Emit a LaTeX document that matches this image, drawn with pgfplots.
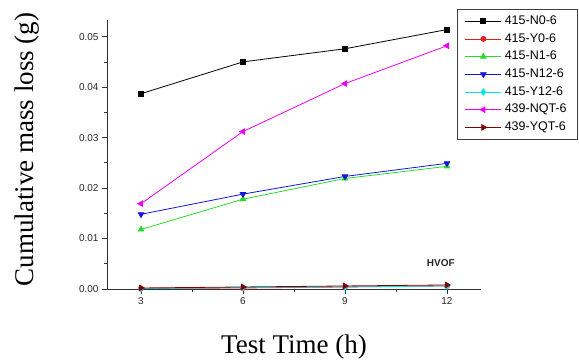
\documentclass[border=0pt]{standalone}
\usepackage{fontspec}
\setmainfont{Liberation Serif}
\setsansfont{Liberation Sans}
\usepackage{pgfplots}
\pgfplotsset{compat=1.18}

\definecolor{cN0}{RGB}{0,0,0}
\definecolor{cY0}{RGB}{230,30,30}
\definecolor{cN1}{RGB}{40,220,40}
\definecolor{cN12}{RGB}{20,20,220}
\definecolor{cY12}{RGB}{0,230,240}
\definecolor{cNQT}{RGB}{240,0,240}
\definecolor{cYQT}{RGB}{128,0,0}

\begin{document}
\begin{tikzpicture}
\begin{axis}[
  at={(0pt,0pt)}, anchor=south west,
  scale only axis, width=374pt, height=269pt,
  xmin=2, xmax=13, ymin=0, ymax=0.0533,
  axis x line*=bottom, axis y line*=left,
  axis line style={black!80, line width=0.7pt},
  xtick={3,6,9,12}, minor xtick={4.5,7.5,10.5},
  ytick={0,0.01,0.02,0.03,0.04,0.05},
  minor ytick={0.005,0.015,0.025,0.035,0.045},
  tick align=outside,
  major tick length=5pt, minor tick length=3pt,
  tick style={black!80, line width=0.7pt},
  scaled y ticks=false,
  yticklabel style={/pgf/number format/fixed, /pgf/number format/fixed zerofill, /pgf/number format/precision=2},
  /pgf/number format/assume math mode=true,
  ticklabel style={font=\sffamily\fontsize{10}{12}\selectfont, black!85},
  xlabel={Test Time (h)}, ylabel={Cumulative mass loss (g)},
  label style={font=\rmfamily\fontsize{27}{32}\selectfont},
  xlabel style={at={(axis description cs:0.5,0)}, anchor=north, yshift=-42pt},
  ylabel style={at={(axis description cs:0,0.5)}, anchor=south, xshift=5pt, yshift=64pt},
  clip=false,
  legend style={at={(1.2594,1.041)}, anchor=north east, draw=black!75, line width=0.8pt,
    font=\sffamily\fontsize{12.5}{14}\selectfont, fill=white,
    inner xsep=8pt, inner ysep=3pt,
    nodes={text height=10pt, text depth=3.7pt, inner ysep=2pt, inner xsep=3pt},
    row sep=0pt},
  legend cell align=left,
  legend image code/.code={\draw[mark repeat=2,mark phase=2] plot coordinates {(0pt,0pt) (18pt,0pt) (36pt,0pt)};},
  every axis plot/.append style={line width=0.8pt},
]
\addplot[cN0, mark=square*, mark size=2.5pt] coordinates {(3,0.0387) (6,0.0450) (9,0.0476) (12,0.0514)};
\addlegendentry{415-N0-6}
\addplot[cY0, mark=*, mark size=2.5pt] coordinates {(3,0.0001) (6,0.0002) (9,0.0004) (12,0.0006)};
\addlegendentry{415-Y0-6}
\addplot[cN1, mark=triangle*, mark size=3.2pt] coordinates {(3,0.0118) (6,0.0178) (9,0.0219) (12,0.0243)};
\addlegendentry{415-N1-6}
\addplot[cN12, mark=triangle*, mark options={rotate=180}, mark size=3.2pt] coordinates {(3,0.0148) (6,0.0188) (9,0.0223) (12,0.0249)};
\addlegendentry{415-N12-6}
\addplot[cY12, mark=diamond*, mark size=3.2pt] coordinates {(3,0.0001) (6,0.0003) (9,0.0004) (12,0.0006)};
\addlegendentry{415-Y12-6}
\addplot[cNQT, mark=triangle*, mark options={rotate=90}, mark size=3.2pt] coordinates {(3,0.0169) (6,0.0312) (9,0.0407) (12,0.0482)};
\addlegendentry{439-NQT-6}
\addplot[cYQT, mark=triangle*, mark options={rotate=-90}, mark size=3.2pt] coordinates {(3,0.0002) (6,0.0004) (9,0.0006) (12,0.0008)};
\addlegendentry{439-YQT-6}
\node[font=\sffamily\bfseries\fontsize{10}{12}\selectfont, black!85] at (axis cs:11.82,0.0051) {HVOF};
\end{axis}
\path[use as bounding box] (-107pt,-74pt) rectangle (472pt,289pt);
\end{tikzpicture}
\end{document}
